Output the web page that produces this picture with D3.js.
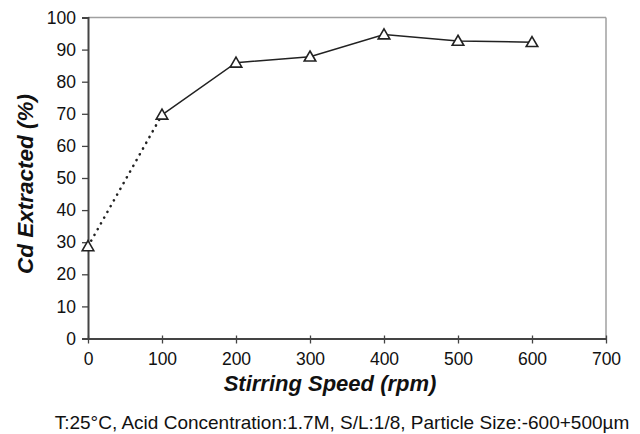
<!DOCTYPE html>
<html><head><meta charset="utf-8">
<script src="https://cdn.jsdelivr.net/npm/d3@7"></script>
<style>body{margin:0;background:#fff}svg{display:block}text{font-family:"Liberation Sans",Arial,sans-serif}</style>
</head><body><svg id="c" width="640" height="434"></svg>
<script>
const speeds = [0, 100, 200, 300, 400, 500, 600];
const cdExtracted = [28.7, 69.7, 85.9, 87.8, 94.7, 92.7, 92.3];
const xTicks = [0, 100, 200, 300, 400, 500, 600, 700];
const yTicks = [0, 10, 20, 30, 40, 50, 60, 70, 80, 90, 100];
const xTitle = "Stirring Speed (rpm)";
const yTitle = "Cd Extracted (%)";
const note = "T:25°C, Acid Concentration:1.7M, S/L:1/8, Particle Size:-600+500µm";

const svg = d3.select("#c");
const L = 88, R = 606, T = 17.5, B = 338.5;
const x = d3.scaleLinear().domain([0, 700]).range([L, R]);
const y = d3.scaleLinear().domain([0, 100]).range([B, T]);

// frame top/right
svg.append("line").attr("x1", L).attr("x2", R).attr("y1", T).attr("y2", T).attr("stroke", "#a0a0a0").attr("stroke-width", 1.5);
svg.append("line").attr("x1", R).attr("x2", R).attr("y1", T).attr("y2", B).attr("stroke", "#a0a0a0").attr("stroke-width", 1.5);

// y axis
const yAx = svg.append("g").attr("transform", `translate(${L},0)`)
  .call(d3.axisLeft(y).tickValues(yTicks).tickSize(6).tickPadding(6));
yAx.select(".domain").attr("stroke", "#444").attr("stroke-width", 2);
yAx.selectAll(".tick line").attr("stroke", "#444").attr("stroke-width", 1.3);
yAx.selectAll("text").attr("font-size", 17.5).attr("fill", "#111");

// x axis
const xAx = svg.append("g").attr("transform", `translate(0,${B})`)
  .call(d3.axisBottom(x).tickValues(xTicks).tickSizeInner(5).tickSizeOuter(0).tickPadding(9));
xAx.select(".domain").attr("stroke", "#444").attr("stroke-width", 2);
xAx.selectAll(".tick line").attr("stroke", "#444").attr("stroke-width", 1.3).attr("y1", -3);
xAx.selectAll("text").attr("font-size", 17.5).attr("fill", "#111");

// lines
const pts = speeds.map((s, i) => [s, cdExtracted[i]]);
const line = d3.line().x(d => x(d[0])).y(d => y(d[1]));
svg.append("path").attr("d", line(pts.slice(0, 2))).attr("fill", "none")
  .attr("stroke", "#222").attr("stroke-width", 2.6).attr("stroke-dasharray", "0.1 6.5").attr("stroke-linecap", "round");
svg.append("path").attr("d", line(pts.slice(1))).attr("fill", "none")
  .attr("stroke", "#222").attr("stroke-width", 1.5);

// markers
const tri = d3.symbol().type(d3.symbolTriangle).size(58);
svg.selectAll(".m").data(pts).join("path").attr("class", "m")
  .attr("transform", d => `translate(${x(d[0])},${y(d[1]) + 1})`)
  .attr("d", tri).attr("fill", "#fff").attr("stroke", "#222").attr("stroke-width", 1.6);

// titles
svg.append("text").attr("x", 330).attr("y", 391).attr("text-anchor", "middle")
  .attr("font-size", 22).attr("font-weight", "bold").attr("font-style", "italic").attr("fill", "#111").text(xTitle);
svg.append("text").attr("transform", "translate(33,184) rotate(-90)").attr("text-anchor", "middle")
  .attr("font-size", 22.5).attr("font-weight", "bold").attr("font-style", "italic").attr("fill", "#111").text(yTitle);
svg.append("text").attr("x", 342).attr("y", 428.5).attr("text-anchor", "middle")
  .attr("font-size", 19).attr("fill", "#111").text(note);
</script></body></html>
